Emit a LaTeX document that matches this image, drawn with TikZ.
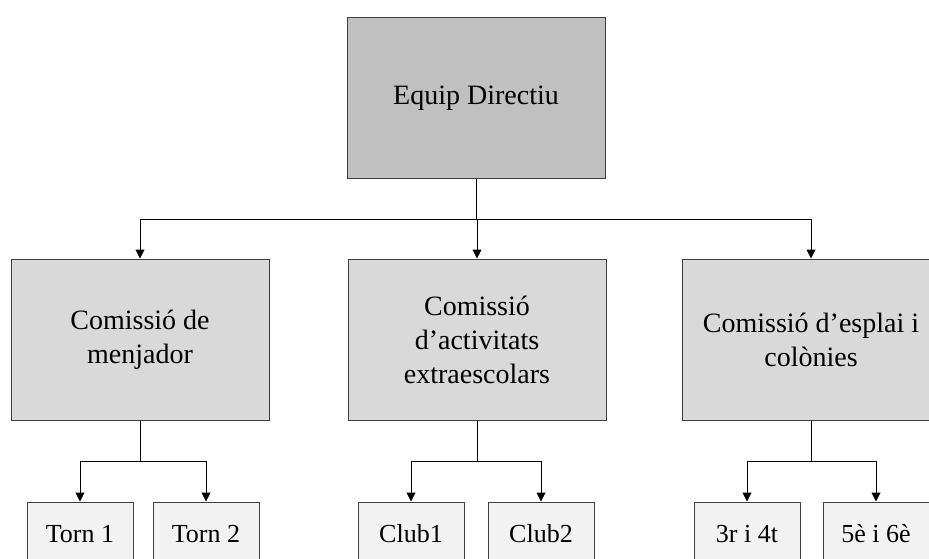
\documentclass[tikz,border=0pt]{standalone}
\usepackage{fontspec}
\setmainfont{Liberation Serif}
\usetikzlibrary{arrows.meta}

\definecolor{boxline}{HTML}{3F3F3F}
\definecolor{topfill}{HTML}{C0C0C0}
\definecolor{midfill}{HTML}{D9D9D9}
\definecolor{subfill}{HTML}{F2F2F2}

\begin{document}
\begin{tikzpicture}[x=1pt, y=-1pt,
    topbox/.style={draw=boxline, fill=topfill, line width=1pt, minimum width=258pt, minimum height=160pt, align=center, font=\fontsize{28}{34}\selectfont},
    midbox/.style={draw=boxline, fill=midfill, line width=1pt, minimum width=258pt, minimum height=161pt, align=center, font=\fontsize{28}{34}\selectfont},
    subbox/.style={draw=boxline, fill=subfill, line width=1pt, minimum width=106pt, minimum height=64pt, align=center, font=\fontsize{26}{31}\selectfont},
    arr/.style={line width=1pt, -{Triangle[length=9pt,width=9pt]}}]
    \clip (0,0) rectangle (929,559);

    \node [topbox] (dir) at (476,98) {Equip Directiu};

    \node [midbox] (menj) at (140,339.5) {Comissió de\\menjador};
    \node [midbox] (extra) at (477,339.5) {Comissió\\d’activitats\\extraescolars};
    \node [midbox] (esplai) at (811,339.5) {Comissió d’esplai i\\colònies};

    \node [subbox] (torn1) at (80,534) {Torn 1};
    \node [subbox] (torn2) at (206,534) {Torn 2};
    \node [subbox] (club1) at (411,534) {Club1};
    \node [subbox] (club2) at (541,534) {Club2};
    \node [subbox] (curs1) at (747,534) {3r i 4t};
    \node [subbox] (curs2) at (876,534) {5è i 6è};

    \coordinate (bus) at (476,219);
    \draw [line width=1pt] (dir.south) -- (bus);
    \draw [arr] (bus) -| (menj.north);
    \draw [arr] (bus) -| (extra.north);
    \draw [arr] (bus) -| (esplai.north);

    \draw [arr] (menj.south) -- ++(0,41) -| (torn1.north);
    \draw [arr] (menj.south) -- ++(0,41) -| (torn2.north);
    \draw [arr] (extra.south) -- ++(0,41) -| (club1.north);
    \draw [arr] (extra.south) -- ++(0,41) -| (club2.north);
    \draw [arr] (esplai.south) -- ++(0,41) -| (curs1.north);
    \draw [arr] (esplai.south) -- ++(0,41) -| (curs2.north);
\end{tikzpicture}
\end{document}
